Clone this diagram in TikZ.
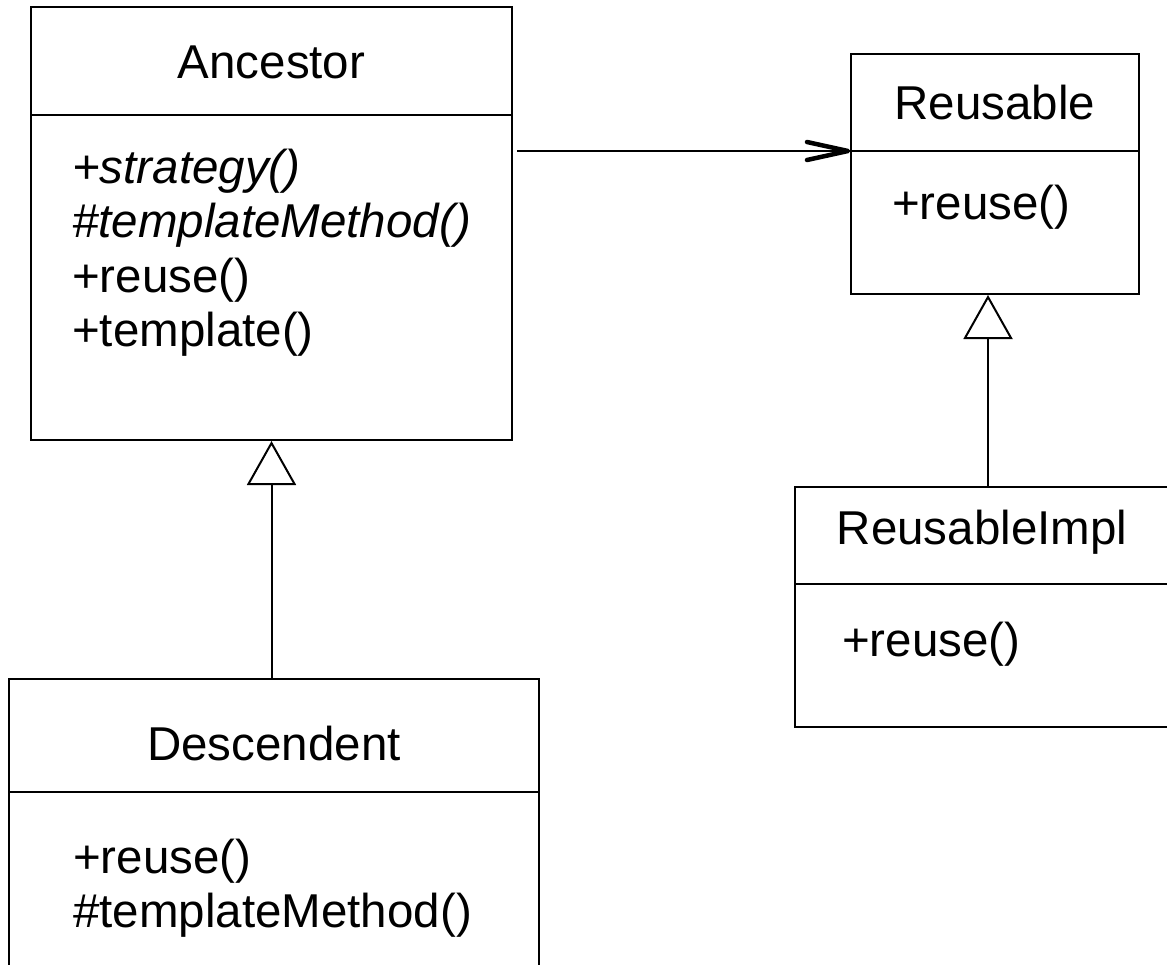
\documentclass[tikz,border=0pt]{standalone}
\usepackage{fontspec}
\setmainfont{Liberation Sans}
\usetikzlibrary{arrows.meta}

\begin{document}
\begin{tikzpicture}[x=1pt,y=-1pt,
    classbox/.style={draw, line width=2pt, inner sep=0pt},
    title/.style={anchor=base, inner sep=0pt, font=\fontsize{47.5}{54}\selectfont},
    member/.style={anchor=base west, inner sep=0pt, font=\fontsize{47.5}{54}\selectfont},
    abstract/.style={member, font=\fontsize{47.5}{54}\selectfont\itshape},
    divider/.style={line width=2pt},
    inherit/.style={line width=2pt, -{Triangle[open, length=44pt, width=49pt, fill=white]}},
    assoc/.style={line width=2pt},
    barb/.style={line width=4.5pt, line join=round, line cap=round}]

  \useasboundingbox (0,0) rectangle (1167,964);
  \fill[white] (0,0) rectangle (1167,964);
  \clip (0,0) rectangle (1167,964);

  % Ancestor
  \node[classbox, minimum width=481pt, minimum height=433pt] (anc) at (271.5,223.5) {};
  \draw[divider] (anc.west |- 0,115) -- (anc.east |- 0,115);
  \node[title] (ancname) at (271.5,78) {Ancestor};
  \node[abstract] (anc1) at (72,183) {+strategy()};
  \node[abstract] (anc2) at (72,237) {\#templateMethod()};
  \node[member] (anc3) at (72,292) {+reuse()};
  \node[member] (anc4) at (72,346) {+template()};

  % Descendent (runs past the lower edge)
  \node[classbox, minimum width=530pt, minimum height=330pt] (desc) at (274,844) {};
  \draw[divider] (desc.west |- 0,792) -- (desc.east |- 0,792);
  \node[title] (descname) at (274,760) {Descendent};
  \node[member] (desc1) at (73,873) {+reuse()};
  \node[member] (desc2) at (73,927) {\#templateMethod()};

  % Reusable
  \node[classbox, minimum width=288pt, minimum height=240pt] (reus) at (995,174) {};
  \coordinate (rdivw) at (reus.west |- 0,151);
  \draw[divider] (rdivw) -- (reus.east |- 0,151);
  \node[title] (reusname) at (995,119) {Reusable};
  \node[member] (reus1) at (892,219) {+reuse()};

  % ReusableImpl (runs past the right edge)
  \node[classbox, minimum width=374pt, minimum height=240pt] (impl) at (982,607) {};
  \draw[divider] (impl.west |- 0,584) -- (impl.east |- 0,584);
  \node[title] (implname) at (982,544) {ReusableImpl};
  \node[member] (impl1) at (842,656) {+reuse()};

  % relations
  \draw[assoc] ([xshift=4pt]anc.east |- rdivw) -- (rdivw);
  \draw[barb] ([shift={(-43pt,9pt)}]rdivw) -- ([xshift=-2pt]rdivw) -- ([shift={(-43pt,-9pt)}]rdivw);
  \draw[inherit] (desc.north -| anc.south) -- (anc.south);
  \draw[inherit] ([xshift=6pt]impl.north) -- ([xshift=6pt]impl.north |- reus.south);
\end{tikzpicture}
\end{document}
